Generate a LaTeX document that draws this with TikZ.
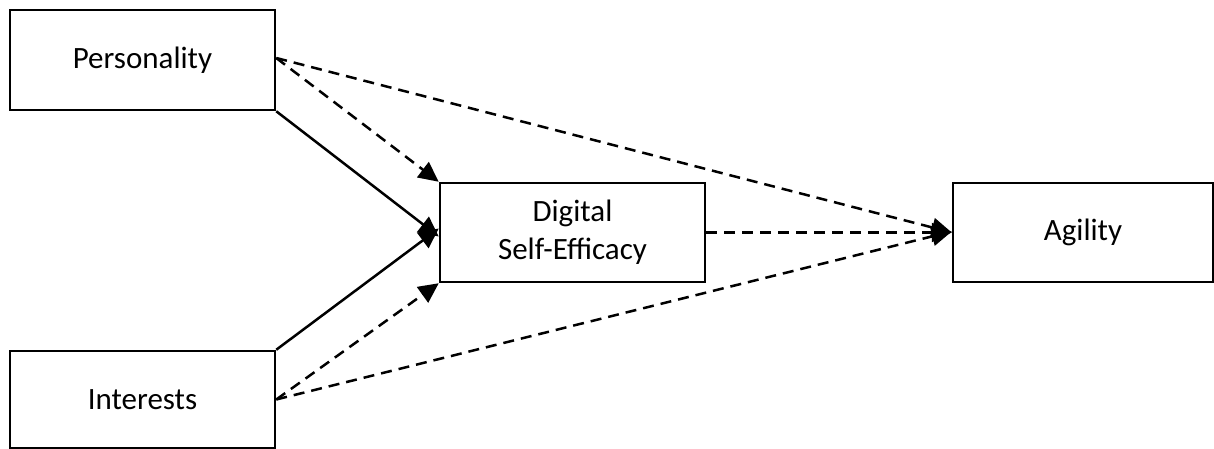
\documentclass[tikz,border=0pt]{standalone}
\usepackage{fontspec}
\setmainfont{Carlito}
\usetikzlibrary{arrows.meta}
\newcommand{\linew}{2.5pt}

\begin{document}
\begin{tikzpicture}[x=1pt,y=-1pt,
    box/.style={draw, line width=\linew, inner sep=0pt, font=\fontsize{31}{38}\selectfont, align=center},
    path/.style={line width=\linew, -{Triangle[length=20pt,width=19pt]}},
    dpath/.style={path, dash pattern=on 11pt off 7pt}]
        \useasboundingbox (0,0) rectangle (1214,449);
          % model boxes
        \node (pers) at (142.5,60) [box, minimum width=265pt, minimum height=100pt] {Personality};
        \node (intr) at (142.5,399.5) [box, minimum width=265pt, minimum height=97pt] {Interests};
        \node (dse) at (572.5,232.5) [box, minimum width=265pt, minimum height=99pt] {Digital\\Self-Efficacy};
        \node (agil) at (1083,232.5) [box, minimum width=260pt, minimum height=99pt] {Agility};

        \draw[path] (pers.south east) to ([yshift=-4pt]dse.west);
        \draw[path] (intr.north east) to ([yshift=4pt]dse.west);
        \draw[dpath] ([yshift=2pt]pers.east) to (dse.north west);
        \draw[dpath] (intr.east) to (dse.south west);
        \draw[dpath] ([yshift=2pt]pers.east) to (agil.west);
        \draw[dpath] (intr.east) to ([yshift=1pt]agil.west);
        \draw[dpath] (dse.east) to (agil.west);
        \end{tikzpicture}
\end{document}
